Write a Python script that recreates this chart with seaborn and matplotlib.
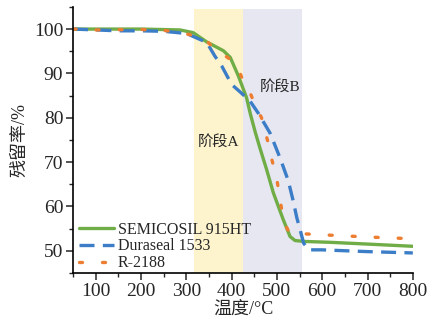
import numpy as np
import pandas as pd
import matplotlib
matplotlib.use("Agg")
import matplotlib.pyplot as plt
import seaborn as sns
from matplotlib.ticker import MultipleLocator

sns.set_theme(style="ticks")
plt.rcParams['font.family'] = ['Liberation Serif', 'Noto Sans CJK SC', 'DejaVu Sans']
plt.rcParams['mathtext.fontset'] = 'stix'

# Data
semi_T = [50, 100, 200, 286, 315, 345, 382, 397, 415, 433, 441, 452, 463, 477, 492, 514, 529, 540, 559, 617, 700, 800]
semi_V = [100, 100, 100, 99.8, 99.2, 97.1, 95.1, 93.6, 89.4, 84.5, 81.0, 76.8, 73.0, 68.4, 63.1, 57.0, 53.2, 52.3, 52.1, 51.9, 51.5, 51.0]

dura_T = [50, 100, 150, 200, 250, 300, 345, 363, 378, 400, 419, 441, 459, 485, 507, 525, 536, 544, 551, 559, 570, 599, 700, 800]
dura_V = [100, 99.8, 99.6, 99.6, 99.5, 99.0, 97.0, 93.9, 91.7, 87.5, 85.8, 83.7, 81.0, 76.5, 70.9, 65.8, 61.2, 57.4, 54.8, 51.7, 50.2, 50.2, 49.8, 49.5]

r_T = [50, 100, 200, 250, 286, 337, 356, 375, 395, 415, 426, 439, 452, 466, 481, 489, 500, 511, 518, 528, 562, 599, 700, 800]
r_V = [100, 99.8, 99.9, 99.7, 99.2, 98.1, 96.2, 94.7, 93.3, 90.9, 88.2, 86.1, 82.8, 80.0, 74.2, 70.5, 66.0, 59.0, 55.9, 54.0, 53.8, 53.6, 53.1, 52.7]

series_names = ['SEMICOSIL 915HT', 'Duraseal 1533', 'R-2188']
stage_A = (318, 426)
stage_B = (426, 556)

df = pd.concat([
    pd.DataFrame({'T': semi_T, 'V': semi_V, 's': series_names[0]}),
    pd.DataFrame({'T': dura_T, 'V': dura_V, 's': series_names[1]}),
    pd.DataFrame({'T': r_T, 'V': r_V, 's': series_names[2]}),
])

fig = plt.figure(figsize=(4.35, 3.28), dpi=100)
ax = fig.add_axes([0.168, 0.168, 0.781, 0.811])

ax.axvspan(*stage_A, ymin=0, ymax=(104.5 - 45) / 60, color='#FDF4CE', zorder=0, lw=0)
ax.axvspan(*stage_B, ymin=0, ymax=(104.5 - 45) / 60, color='#E6E7F1', zorder=0, lw=0)

colors = ['#70AD47', '#3C7DC8', '#ED7D31']
styles = [dict(linestyle='-'), dict(dashes=(4.5, 2.5)), dict(dashes=(0.9, 6.0), dash_capstyle='round')]
for name, c, st in zip(series_names, colors, styles):
    sub = df[df['s'] == name]
    sns.lineplot(data=sub, x='T', y='V', ax=ax, color=c, lw=2.4, label=name, **st)

ax.set_xlim(50, 800)
ax.set_ylim(45, 105)
ax.xaxis.set_major_locator(MultipleLocator(100))
ax.xaxis.set_minor_locator(MultipleLocator(50))
ax.set_yticks([50, 60, 70, 80, 90, 100])
ax.yaxis.set_minor_locator(MultipleLocator(5))
ax.tick_params(axis='both', which='major', labelsize=14, length=5, width=1.1, direction='out', pad=2)
ax.tick_params(axis='both', which='minor', length=3, width=1.0, direction='out')
for sp in ['top', 'right']:
    ax.spines[sp].set_visible(False)
for sp in ['left', 'bottom']:
    ax.spines[sp].set_linewidth(1.2)
    ax.spines[sp].set_color('black')

ax.set_xlabel('温度/°C', fontsize=13, labelpad=1)
ax.set_ylabel('残留率/%', fontsize=13, labelpad=4)

ax.text(370, 74.5, '阶段A', fontsize=11, ha='center', va='center')
ax.text(507, 87, '阶段B', fontsize=11, ha='center', va='center')

ax.legend(loc='lower left', bbox_to_anchor=(-0.01, -0.03), frameon=False, fontsize=11.5,
          handlelength=2.2, handletextpad=0.2, labelspacing=0.05, borderaxespad=0.2)

fig.savefig('out.png', dpi=100)
